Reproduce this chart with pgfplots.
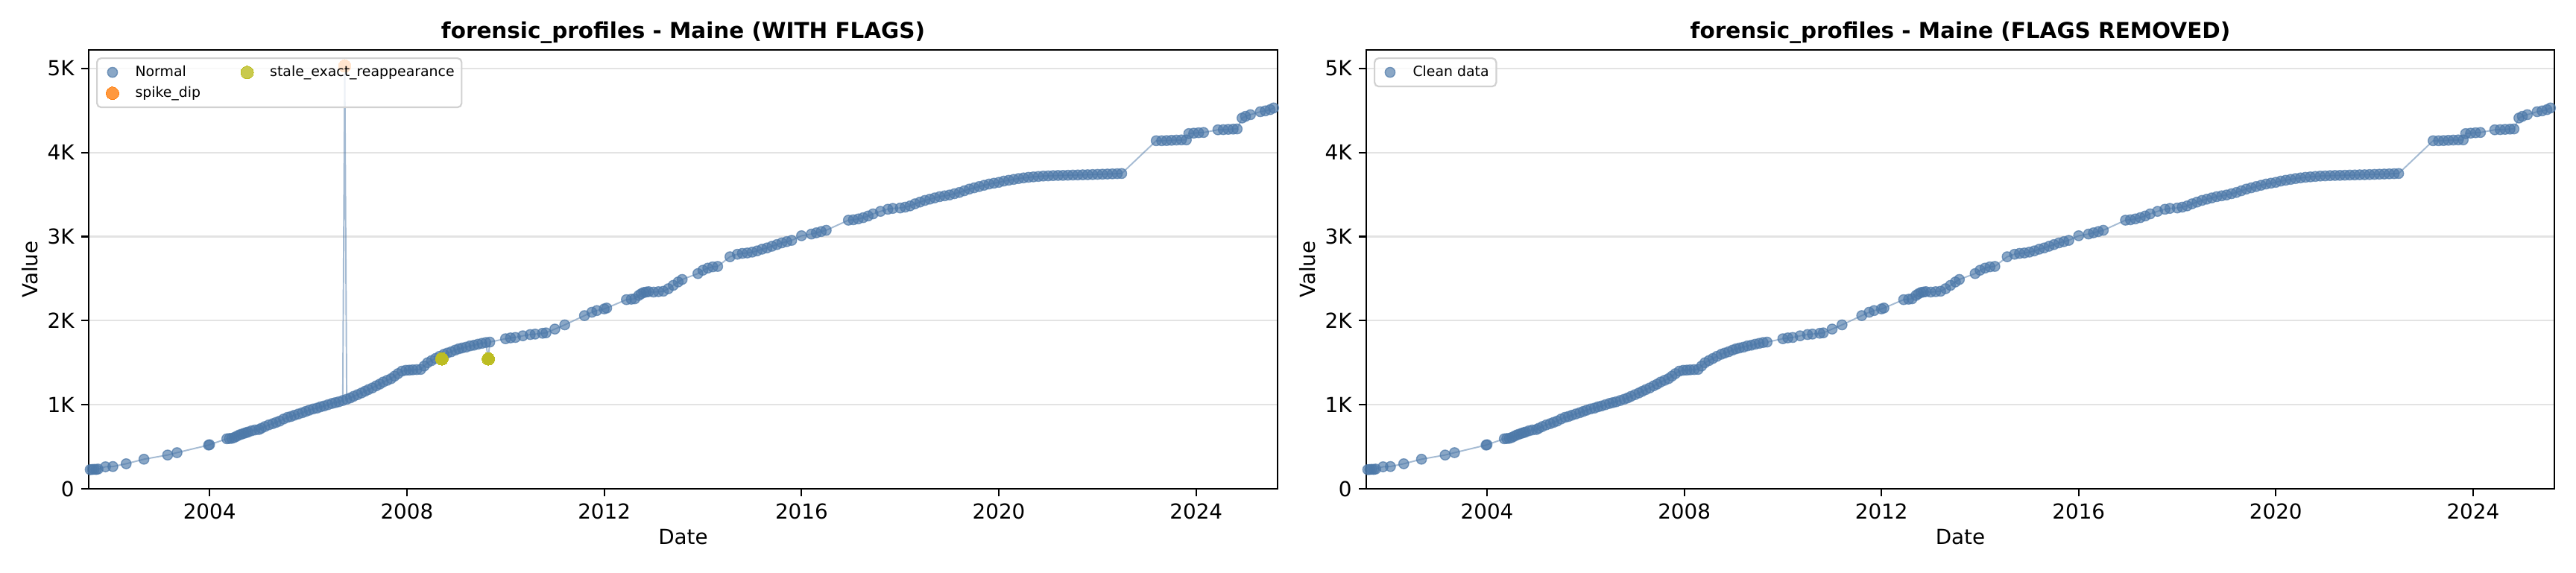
\documentclass[border=0pt]{standalone}
\usepackage{fontspec}
\setmainfont{DejaVu Sans}
\usepackage{pgfplots}
\usepackage{pgfplotstable}
\pgfplotsset{compat=1.18}

\definecolor{nblue}{HTML}{4C78A8}
\definecolor{spikeor}{HTML}{FF7F0E}
\definecolor{staleol}{HTML}{BCBD22}

% f: 0 = normal, 1 = stale_exact_reappearance, 2 = spike_dip
\pgfplotstableread{
x y f
2001.58 228 0
2001.62 230 0
2001.66 232 0
2001.70 230 0
2001.74 235 0
2001.89 262 0
2002.04 265 0
2002.31 298 0
2002.67 352 0
2003.15 402 0
2003.34 430 0
2003.98 520 0
2004.00 525 0
2004.35 595 0
2004.40 598 0
2004.45 600 0
2004.50 610 0
2004.55 625 0
2004.60 640 0
2004.65 650 0
2004.70 660 0
2004.74 668 0
2004.78 675 0
2004.85 690 0
2004.92 700 0
2005.00 705 0
2005.05 720 0
2005.12 740 0
2005.20 760 0
2005.28 775 0
2005.35 790 0
2005.42 805 0
2005.50 830 0
2005.58 850 0
2005.65 860 0
2005.72 875 0
2005.80 890 0
2005.88 905 0
2005.95 920 0
2006.02 935 0
2006.10 950 0
2006.18 960 0
2006.25 975 0
2006.32 985 0
2006.40 1000 0
2006.48 1015 0
2006.55 1025 0
2006.62 1035 0
2006.70 1050 0
2006.74 5030 2
2006.78 1065 0
2006.85 1080 0
2006.92 1100 0
2007.00 1120 0
2007.08 1140 0
2007.15 1160 0
2007.22 1180 0
2007.30 1200 0
2007.38 1225 0
2007.45 1245 0
2007.52 1270 0
2007.60 1290 0
2007.68 1310 0
2007.75 1340 0
2007.82 1370 0
2007.90 1400 0
2007.98 1410 0
2008.05 1412 0
2008.12 1415 0
2008.20 1418 0
2008.28 1420 0
2008.35 1460 0
2008.42 1500 0
2008.50 1525 0
2008.58 1550 0
2008.66 1575 0
2008.71 1545 1
2008.75 1600 0
2008.82 1615 0
2008.90 1630 0
2008.98 1650 0
2009.05 1665 0
2009.12 1675 0
2009.20 1685 0
2009.28 1700 0
2009.36 1708 0
2009.44 1720 0
2009.52 1730 0
2009.60 1740 0
2009.65 1545 1
2009.68 1745 0
2010.00 1785 0
2010.10 1795 0
2010.20 1800 0
2010.35 1820 0
2010.50 1835 0
2010.60 1840 0
2010.75 1850 0
2010.82 1855 0
2011.00 1900 0
2011.20 1950 0
2011.60 2060 0
2011.75 2100 0
2011.85 2120 0
2012.00 2140 0
2012.05 2150 0
2012.45 2250 0
2012.55 2255 0
2012.62 2260 0
2012.70 2300 0
2012.75 2320 0
2012.80 2335 0
2012.85 2340 0
2012.90 2345 0
2013.00 2340 0
2013.10 2345 0
2013.20 2350 0
2013.30 2380 0
2013.40 2420 0
2013.50 2460 0
2013.58 2490 0
2013.90 2560 0
2014.00 2600 0
2014.10 2625 0
2014.20 2640 0
2014.30 2645 0
2014.55 2760 0
2014.70 2790 0
2014.80 2800 0
2014.90 2805 0
2015.00 2815 0
2015.10 2830 0
2015.20 2850 0
2015.30 2865 0
2015.40 2885 0
2015.50 2905 0
2015.60 2925 0
2015.70 2940 0
2015.80 2955 0
2016.00 3010 0
2016.20 3030 0
2016.30 3045 0
2016.40 3060 0
2016.50 3075 0
2016.95 3195 0
2017.05 3200 0
2017.15 3210 0
2017.25 3225 0
2017.35 3245 0
2017.45 3270 0
2017.60 3300 0
2017.75 3325 0
2017.85 3335 0
2018.00 3340 0
2018.10 3350 0
2018.20 3365 0
2018.30 3390 0
2018.40 3410 0
2018.50 3430 0
2018.60 3445 0
2018.70 3460 0
2018.80 3475 0
2018.90 3485 0
2019.00 3495 0
2019.10 3510 0
2019.20 3525 0
2019.30 3545 0
2019.40 3565 0
2019.50 3580 0
2019.60 3595 0
2019.70 3610 0
2019.80 3625 0
2019.90 3635 0
2020.00 3645 0
2020.10 3660 0
2020.20 3670 0
2020.30 3680 0
2020.40 3690 0
2020.50 3698 0
2020.60 3705 0
2020.70 3710 0
2020.80 3715 0
2020.90 3720 0
2021.00 3722 0
2021.10 3725 0
2021.20 3727 0
2021.30 3728 0
2021.40 3730 0
2021.50 3732 0
2021.60 3733 0
2021.70 3735 0
2021.80 3736 0
2021.90 3738 0
2022.00 3740 0
2022.10 3742 0
2022.20 3744 0
2022.30 3746 0
2022.40 3748 0
2022.49 3750 0
2023.19 4140 0
2023.30 4140 0
2023.40 4142 0
2023.50 4145 0
2023.60 4148 0
2023.70 4150 0
2023.80 4150 0
2023.85 4225 0
2023.95 4230 0
2024.05 4235 0
2024.15 4238 0
2024.44 4270 0
2024.55 4272 0
2024.65 4275 0
2024.75 4278 0
2024.83 4280 0
2024.93 4410 0
2025.00 4430 0
2025.10 4450 0
2025.30 4485 0
2025.40 4495 0
2025.50 4510 0
2025.57 4530 0
}\maine

\pgfplotsset{
  panel/.style={
    scale only axis,
    width=574.2pt, height=212.04pt,
    anchor=south west,
    xmin=2001.55, xmax=2025.65,
    ymin=0, ymax=5220,
    xtick={2004,2008,2012,2016,2020,2024},
    ytick={0,1000,2000,3000,4000,5000},
    yticklabels={0,1K,2K,3K,4K,5K},
    scaled y ticks=false,
    tick pos=left,
    tick align=outside,
    major tick length=3.5pt,
    every tick/.style={black, line width=0.8pt},
    axis line style={line width=0.8pt},
    ymajorgrids,
    major grid style={color=black!11, line width=0.8pt},
    tick label style={font=\fontsize{10}{12}\selectfont},
    x tick label style={/pgf/number format/1000 sep={}},
    /pgf/number format/assume math mode=true,
    title style={font=\bfseries\fontsize{10.6}{13}\selectfont, at={(axis description cs:0.5,0.998)}, anchor=base},
    xlabel style={font=\fontsize{10}{12}\selectfont, at={(axis description cs:0.5,-0.127)}, anchor=base},
    ylabel style={font=\fontsize{10}{12}\selectfont, at={(axis description cs:-0.043,0.5)}, anchor=base, rotate=0},
    xlabel={Date}, ylabel={Value},
    legend cell align=left,
    legend image code/.code={\path[draw=none, fill=none] (0pt,-2pt) rectangle (15pt,2pt); \draw[##1] plot coordinates {(6pt,0pt)};},
    legend style={at={(axis description cs:0,1)}, anchor=north west, xshift=3.6pt, yshift=-3.6pt,
      draw=black!18, line width=0.8pt, rounded corners=2pt, fill=white, fill opacity=0.8, text opacity=1,
      font=\fontsize{6.8}{8}\selectfont, inner sep=1.5pt, row sep=-0.6pt,
      /tikz/every even column/.append style={column sep=14.5pt}},
  },
  conn/.style={nblue, line width=0.7pt, opacity=0.5, mark=none},
  normal/.style={only marks, mark=*, mark size=2.4pt,
    mark options={draw=nblue, fill=nblue, draw opacity=0.7, fill opacity=0.65, line width=0.5pt}},
  flagmk/.style={only marks, mark=*, mark size=3.05pt, mark options={draw=#1, fill=#1, line width=0pt}},
}

\begin{document}
\begin{tikzpicture}
\useasboundingbox (-42.84pt,-40.32pt) rectangle (1201.32pt,236.16pt);

\begin{axis}[panel, at={(0pt,0pt)}, title={forensic\_profiles - Maine (WITH FLAGS)},
  legend columns=2]
\addplot[conn, forget plot] table[x=x, y=y] {\maine};
\addplot[normal, restrict expr to domain={\thisrow{f}}{0:0}] table[x=x, y=y] {\maine};
\addlegendentry{Normal}
\addplot[flagmk=staleol, restrict expr to domain={\thisrow{f}}{1:1}] table[x=x, y=y] {\maine};
\addlegendentry{stale\_exact\_reappearance}
\addplot[flagmk=spikeor, restrict expr to domain={\thisrow{f}}{2:2}] table[x=x, y=y] {\maine};
\addlegendentry{spike\_dip}
\end{axis}

\begin{axis}[panel, at={(617.04pt,0pt)}, width=573.84pt, title={forensic\_profiles - Maine (FLAGS REMOVED)}]
\addplot[conn, forget plot, restrict expr to domain={\thisrow{f}}{0:0}] table[x=x, y=y] {\maine};
\addplot[normal, restrict expr to domain={\thisrow{f}}{0:0}] table[x=x, y=y] {\maine};
\addlegendentry{Clean data}
\end{axis}
\end{tikzpicture}
\end{document}
